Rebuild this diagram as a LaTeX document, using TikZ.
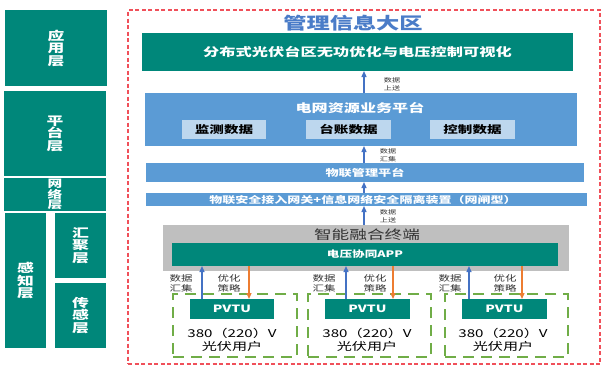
\documentclass[tikz,border=0pt]{standalone}
\usepackage{fontspec}
\setmainfont{Noto Sans CJK SC}[FakeStretch=1.4]
\usetikzlibrary{arrows.meta,fit}
\definecolor{tealc}{HTML}{00877A}
\definecolor{platc}{HTML}{5B9BD5}
\definecolor{subc}{HTML}{BDD7EE}
\definecolor{grayc}{HTML}{BFBFBF}
\definecolor{redc}{HTML}{F0505A}
\definecolor{greenc}{HTML}{70AD47}
\definecolor{orangec}{HTML}{ED7D31}
\definecolor{bluec}{HTML}{4472C4}
\definecolor{titlec}{HTML}{4A7CC8}
\definecolor{darktext}{HTML}{333333}
\newcommand{\fs}[2]{\fontsize{#1}{#2}\selectfont}
\begin{document}
\begin{tikzpicture}[x=1pt,y=-1pt,
  area/.style={inner sep=0pt, outer sep=0pt},
  layerbox/.style={area, fill=tealc, text=white, font=\bfseries\fs{12}{12.5}, align=center},
  tealbox/.style={area, fill=tealc, text=white, font=\bfseries},
  platbox/.style={area, fill=platc},
  subbox/.style={area, fill=subc, text=black, font=\bfseries\fs{10.4}{12}},
  graybox/.style={area, fill=grayc},
  userbox/.style={area, draw=greenc, line width=2.4pt, dash pattern=on 11pt off 7pt},
  upblue/.style={draw=bluec, line width=1.3pt, -{Triangle[length=6pt,width=5pt]}},
  downorange/.style={draw=orangec, line width=1.3pt, -{Triangle[length=6pt,width=5pt]}},
  smalllab/.style={text=darktext, font=\fs{5.8}{7.6}, align=center, inner sep=0pt},
  grouplab/.style={text=darktext, font=\fs{8.2}{9.4}, align=center, inner sep=0pt},
  usertext/.style={text=black, font=\fs{10.8}{12}, inner sep=0pt}
]
\useasboundingbox (0,0) rectangle (603,368);
\fill[white] (0,0) rectangle (603,368);

% left column
\node[layerbox, fit={(5,10) (107,86)}] (L1) {};
\node[layerbox] at (L1.center) {应\\用\\层};
\node[layerbox, fit={(4,91) (106,176)}] (L2) {};
\node[layerbox] at (L2.center) {平\\台\\层};
\node[layerbox, fit={(4,178) (106,211)}] (L3) {};
\node[layerbox, font=\bfseries\fs{10.5}{10}] at (L3.center) {网\\络\\层};
\node[layerbox, fit={(5,213) (46,348)}] (L4) {};
\node[layerbox] at (L4.center) {感\\知\\层};
\node[layerbox, fit={(55,213) (106,278)}] (L5) {};
\node[layerbox] at (L5.center) {汇\\聚\\层};
\node[layerbox, fit={(55,283) (106,348)}] (L6) {};
\node[layerbox] at (L6.center) {传\\感\\层};

% outer dashed region
\node[area, draw=redc, line width=1.3pt, dash pattern=on 4pt off 2.5pt, fit={(128,10) (600,364)}] (zone) {};
\node[text=titlec, font=\bfseries\fs{16.6}{18}, inner sep=0pt] (ztitle) at (353,23) {管理信息大区};

% application
\node[tealbox, fit={(142,33) (573,71)}] (app) {};
\node[text=white, font=\bfseries\fs{11.6}{13}, inner sep=0pt] at (app.center) {分布式光伏台区无功优化与电压控制可视化};

% platform
\node[platbox, fit={(145,93) (577,146)}] (plat) {};
\node[text=white, font=\bfseries\fs{11.5}{13}, inner sep=0pt] (plattitle) at (360,108) {电网资源业务平台};
\node[subbox, fit={(182,120) (266,139)}] (s1) {};
\node[subbox] at (s1.center) {监测数据};
\node[subbox, fit={(306,120) (391,139)}] (s2) {};
\node[subbox] at (s2.center) {台账数据};
\node[subbox, fit={(430,120) (515,139)}] (s3) {};
\node[subbox] at (s3.center) {控制数据};

% IoT management platform
\node[platbox, fit={(146,163) (584,182)}] (iot) {};
\node[text=white, font=\bfseries\fs{9.4}{11}, inner sep=0pt] at (iot.center) {物联管理平台};

% gateway
\node[platbox, fit={(146,193) (587,206)}] (gw) {};
\node[text=white, font=\bfseries\fs{9.3}{10}, inner sep=0pt] at (363,199.5) {物联安全接入网关+信息网络安全隔离装置（网闸型）};

% terminal
\node[graybox, fit={(163,225) (569,271)}] (term) {};
\node[text=darktext, font=\fs{12.6}{14}, inner sep=0pt] at (367,235) {智能融合终端};
\node[tealbox, fit={(172,243) (558,266)}] (capp) {};
\node[text=white, font=\bfseries\fs{9}{10}, inner sep=0pt] at (365,254.5) {电压协同APP};

% vertical arrows in the middle
\coordinate (ax) at (364,0);
\draw[upblue] (plat.north -| ax) -- (app.south -| ax);
\draw[upblue] (iot.north -| ax) -- (plat.south -| ax);
\draw[upblue] (gw.north -| ax) -- (iot.south -| ax);
\draw[upblue] (term.north -| ax) -- (gw.south -| ax);
\node[smalllab] at (392,84) {数据\\上送};
\node[smalllab] at (388,155) {数据\\汇集};
\node[smalllab] at (388,216) {数据\\上送};

% user groups
\foreach \i/\bl/\br/\pl/\pr/\cx/\ux/\ox/\dl/\ol in {
  1/173/297/190/274/232/202/249/181/229,
  2/308/431/325/410/367/346/393/324/375,
  3/445/568/462/547/503/469/522/450/505} {
  \node[userbox, fit={(\bl,294) (\br,357)}] (g\i) {};
  \node[tealbox, fit={(\pl,299) (\pr,319)}] (pv\i) {};
  \node[text=white, font=\bfseries\fs{10}{11}, inner sep=0pt] at (pv\i.center) {PVTU};
  \node[usertext] at (\cx,333) {380（220）V};
  \node[usertext] at (\cx,346.5) {光伏用户};
  \coordinate (ub\i) at (\ux,0);
  \coordinate (uo\i) at (\ox,0);
  \draw[upblue] (pv\i.north -| ub\i) -- (capp.south -| ub\i);
  \draw[downorange] (capp.south -| uo\i) -- (pv\i.north -| uo\i);
  \node[grouplab] at (\dl,283.5) {数据\\汇集};
  \node[grouplab] at (\ol,283.5) {优化\\策略};
}
\end{tikzpicture}
\end{document}
